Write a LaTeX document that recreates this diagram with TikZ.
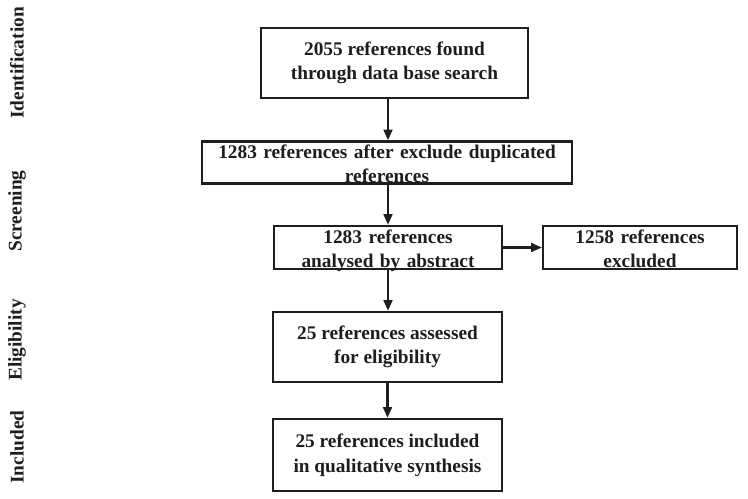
\documentclass[tikz,border=0pt]{standalone}
\usepackage{fontspec}
\setmainfont{Liberation Serif}
\usepackage{tikz}
\usetikzlibrary{arrows.meta, positioning}
\definecolor{inkgray}{HTML}{1E1E1E}
\tikzset{
  stage/.style={rectangle, draw=inkgray, line width=1.4pt, fill=white, text=inkgray,
    font=\bfseries\fontsize{11}{14}\selectfont, align=center, inner sep=0pt},
  stage/tight/.style={stage, text height=0.33cm, text depth=0.51cm},
  ar/.style={-{Triangle[length=6pt, width=5pt]}, draw=inkgray, line width=1.2pt},
  phase/.style={font=\bfseries\fontsize{11}{14}\selectfont, text=inkgray, rotate=90, anchor=center},
}

\begin{document}
\begin{tikzpicture}

\useasboundingbox (0,0) rectangle (14.96,-9.96);

\node[phase] (PID) at (0.34,-1.26) {Identification};
\node[phase] (PSC) at (0.34,-4.22) {Screening};
\node[phase] (PEL) at (0.34,-6.80) {Eligibility};
\node[phase] (PIN) at (0.34,-8.94) {Included};

\node[stage, minimum width=5.34cm, minimum height=1.40cm] (ID) at (7.89,-1.26) {2055 references found\\through data base search};
\node[stage/tight, minimum width=7.40cm, text width=7.2cm] (DUP) at (7.74,-3.25) {1283 references after exclude duplicated\\references};
\node[stage/tight, minimum width=4.56cm, text width=4.4cm, text height=0.34cm, text depth=0.52cm] (SCR) at (7.76,-4.95) {1283 references\\analysed by abstract};
\node[stage/tight, minimum width=3.88cm, text width=3.7cm, text height=0.34cm, text depth=0.52cm] (EXC) at (12.80,-4.95) {1258 references\\excluded};
\node[stage, minimum width=4.58cm, minimum height=1.40cm] (ELG) at (7.75,-6.94) {25 references assessed\\for eligibility};
\node[stage, minimum width=4.58cm, minimum height=1.44cm] (INC) at (7.75,-9.10) {25 references included\\in qualitative synthesis};

\draw[ar] (ID.south -| SCR.north) -- (DUP.north -| SCR.north);
\draw[ar] (DUP.south -| SCR.north) -- (SCR.north);
\draw[ar] (SCR.east) -- (EXC.west);
\draw[ar] (SCR.south) -- (SCR.south |- ELG.north);
\draw[ar] (ELG.south) -- (ELG.south |- INC.north);

\end{tikzpicture}
\end{document}
